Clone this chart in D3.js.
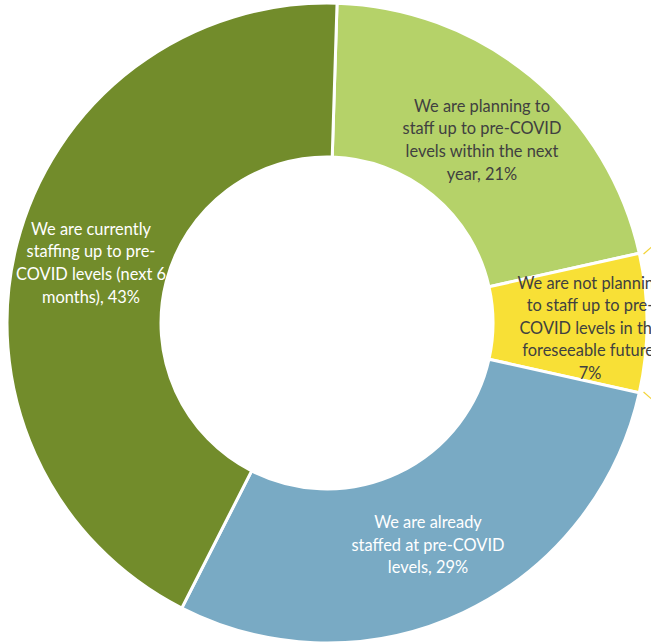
<!DOCTYPE html>
<html>
<head>
<meta charset="utf-8">
<script src="https://cdn.jsdelivr.net/npm/d3@7"></script>
<style>
  html, body { margin: 0; padding: 0; background: #fff; overflow: hidden; }
  svg { display: block; }
</style>
</head>
<body>
<svg id="chart" width="651" height="644"></svg>
<script>
// Staffing plans relative to pre-COVID levels (share of respondents, %)
const categories = [
  "We are planning to staff up to pre-COVID levels within the next year",
  "We are not planning to staff up to pre-COVID levels in the foreseeable future",
  "We are already staffed at pre-COVID levels",
  "We are currently staffing up to pre-COVID levels (next 6 months)"
];
const values = [21, 7, 29, 43];
const labelLines = [
  ["We are planning to", "staff up to pre-COVID", "levels within the next", "year, 21%"],
  ["We are not planning", "to staff up to pre-", "COVID levels in the", "foreseeable future,", "7%"],
  ["We are already", "staffed at pre-COVID", "levels, 29%"],
  ["We are currently", "staffing up to pre-", "COVID levels (next 6", "months), 43%"]
];
const colors = ["#b5d269", "#f8e036", "#79aac4", "#728c2b"];
const textColors = ["#404040", "#404040", "#ffffff", "#ffffff"];

const svg = d3.select("#chart");
const cx = 327, cy = 323, outerR = 320, innerR = 166;
const startAngle = 1.8 * Math.PI / 180;

const pie = d3.pie().sort(null).value(d => d)
  .startAngle(startAngle).endAngle(startAngle + 2 * Math.PI);
const arcs = pie(values);
const arc = d3.arc().innerRadius(innerR).outerRadius(outerR);

const g = svg.append("g").attr("transform", `translate(${cx},${cy})`);

g.selectAll("path.slice")
  .data(arcs)
  .join("path")
  .attr("class", "slice")
  .attr("d", arc)
  .attr("fill", (d, i) => colors[i])
  .attr("stroke", "#fff")
  .attr("stroke-width", 3)
  .attr("stroke-linejoin", "miter");

// Leader lines for the small slice's callout, running off the right edge
const small = arcs[1];
const leaderR0 = outerR + 4;
[small.startAngle + 0.005, small.endAngle - 0.005].forEach((a, k) => {
  const dir = k === 0 ? -1 : 1;
  const x0 = Math.sin(a) * leaderR0, y0 = -Math.cos(a) * leaderR0;
  g.append("line")
    .attr("x1", x0).attr("y1", y0)
    .attr("x2", x0 + 14).attr("y2", y0 + dir * 12)
    .attr("stroke", "#f3d43a")
    .attr("stroke-width", 1.3);
});

// Label anchor positions (centre of each text block)
const labelPos = [[482, 140], [590, 328], [428, 545], [91, 263]];
const lineH = 22.6;

labelLines.forEach((lines, i) => {
  const [lx, ly] = labelPos[i];
  const t = svg.append("text")
    .attr("text-anchor", "middle")
    .attr("font-family", "Lato, 'Open Sans', sans-serif")
    .attr("font-size", 16.4)
    .attr("fill", textColors[i]);
  const top = ly - (lines.length - 1) * lineH / 2;
  lines.forEach((s, j) => {
    t.append("tspan")
      .attr("x", lx)
      .attr("y", top + j * lineH)
      .attr("dy", "0.35em")
      .text(s);
  });
});
</script>
</body>
</html>
